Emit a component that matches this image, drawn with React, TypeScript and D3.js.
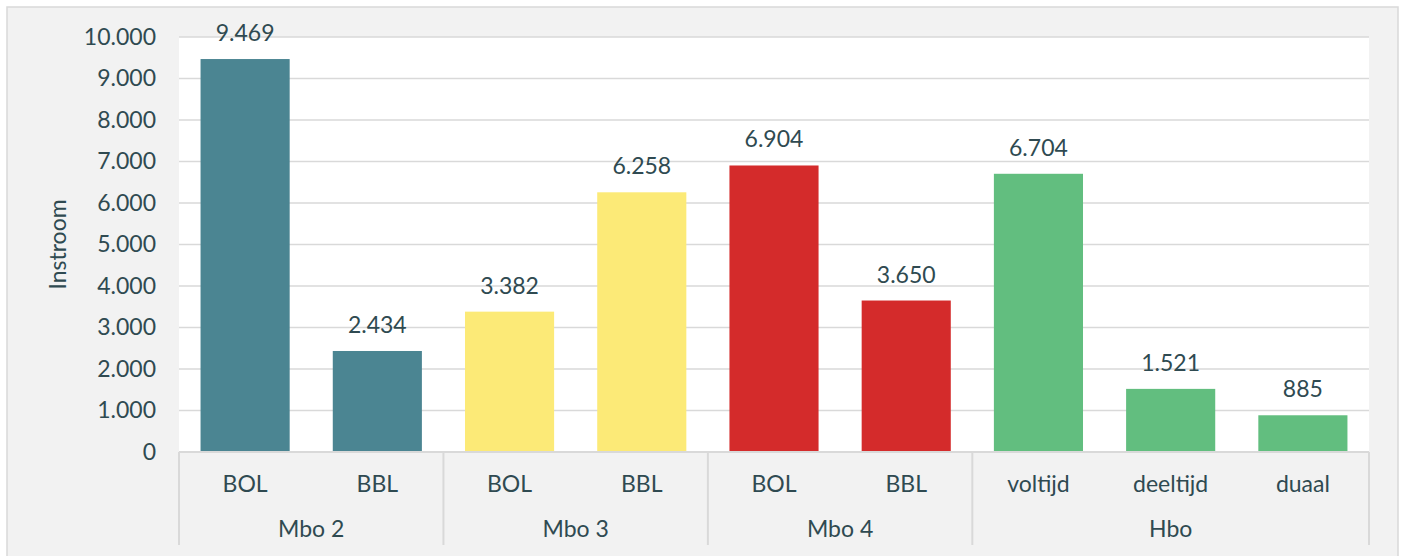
import React from 'react';
import * as d3 from 'd3';

const groups = ['Mbo 2', 'Mbo 3', 'Mbo 4', 'Hbo'];
const subLabels = ['BOL', 'BBL', 'BOL', 'BBL', 'BOL', 'BBL', 'voltijd', 'deeltijd', 'duaal'];
const groupOf = [0, 0, 1, 1, 2, 2, 3, 3, 3];
const values = [9469, 2434, 3382, 6258, 6904, 3650, 6704, 1521, 885];
const groupColors = ['#4b8592', '#fcea77', '#d42b2b', '#62be7f'];
const yTicks = [0, 1000, 2000, 3000, 4000, 5000, 6000, 7000, 8000, 9000, 10000];

const W = 1402;
const H = 556;
const plot = { left: 179, right: 1369, top: 37, bottom: 452 };
const textColor = '#2f4a51';
const lineColor = '#d9d9d9';
const font = 'Lato, "Open Sans", sans-serif';

const fmt = (v: number) => d3.format(',')(v).replace(/,/g, '.');

export default function App() {
  const idx = subLabels.map((_, i) => i);
  const x = d3.scaleBand<number>().domain(idx).range([plot.left, plot.right]).paddingInner(0.326).paddingOuter(0.163);
  const slot = d3.scaleBand<number>().domain(idx).range([plot.left, plot.right]);
  const y = d3.scaleLinear().domain([0, 10000]).range([plot.bottom, plot.top]);

  // group boundaries on the category axis
  const bounds: number[] = [plot.left];
  groups.forEach((_, g) => {
    const last = groupOf.lastIndexOf(g);
    bounds.push((slot(last) as number) + slot.bandwidth());
  });

  return (
    <div style={{ position: 'fixed', left: 0, top: 0 }}>
      <svg width={W} height={H} style={{ display: 'block', fontFamily: font }}>
        <rect x={0} y={0} width={W} height={H} fill="#fff" />
        <rect x={7} y={7} width={1391} height={H} fill="#f2f2f2" stroke={lineColor} strokeWidth={1.5} />
        <rect x={plot.left} y={plot.top} width={plot.right - plot.left} height={plot.bottom - plot.top} fill="#fff" />

        {yTicks.map(t => (
          <g key={t}>
            <line x1={plot.left} x2={plot.right} y1={y(t)} y2={y(t)} stroke={lineColor} strokeWidth={1.5} />
            <text x={156} y={y(t)} dy="0.34em" textAnchor="end" fontSize={23} fill={textColor}>{fmt(t)}</text>
          </g>
        ))}

        <text transform={`translate(66,${(plot.top + plot.bottom) / 2}) rotate(-90)`} textAnchor="middle" fontSize={23} fill={textColor}>Instroom</text>

        {values.map((v, i) => (
          <g key={i}>
            <rect x={x(i)} y={y(v)} width={x.bandwidth()} height={plot.bottom - y(v)} fill={groupColors[groupOf[i]]} />
            <text x={(x(i) as number) + x.bandwidth() / 2} y={y(v) - 18} textAnchor="middle" fontSize={23} fill={textColor}>{fmt(v)}</text>
            <text x={(slot(i) as number) + slot.bandwidth() / 2} y={492} textAnchor="middle" fontSize={23} fill={textColor}>{subLabels[i]}</text>
          </g>
        ))}

        <line x1={plot.left} x2={plot.right} y1={plot.bottom} y2={plot.bottom} stroke={lineColor} strokeWidth={2} />
        {bounds.map((b, i) => (
          <line key={i} x1={b} x2={b} y1={plot.bottom} y2={545} stroke={lineColor} strokeWidth={2} />
        ))}
        {groups.map((g, i) => (
          <text key={g} x={(bounds[i] + bounds[i + 1]) / 2} y={537} textAnchor="middle" fontSize={23} fill={textColor}>{g}</text>
        ))}
      </svg>
    </div>
  );
}
